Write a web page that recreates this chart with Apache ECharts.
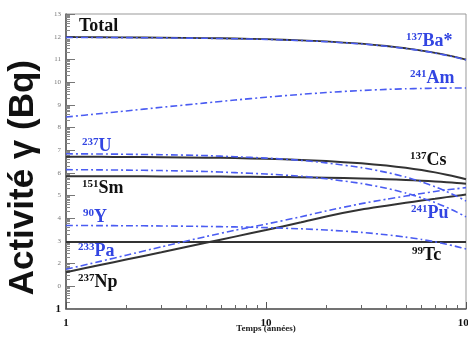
<!DOCTYPE html>
<html><head><meta charset="utf-8">
<script src="https://cdn.jsdelivr.net/npm/echarts@6/dist/echarts.min.js"></script>
<style>html,body{margin:0;padding:0;background:#fff}#c{width:468px;height:339px}</style>
</head><body><div id="c"></div>
<script>
// Time in years (log axis)
const years = [1, 1.5, 2, 3, 5, 7, 10, 15, 20, 30, 40, 50, 60, 70, 80, 90, 100];
// Gamma activity (Bq)
const total = [9.55e11, 9.44e11, 9.33e11, 9.12e11, 8.71e11, 8.32e11, 7.76e11, 6.92e11, 6.17e11, 4.9e11, 3.89e11, 3.09e11, 2.45e11, 1.95e11, 1.55e11, 1.23e11, 9.77e10];
const ba137 = [9.3e11, 9.2e11, 9.1e11, 8.9e11, 8.5e11, 8.1e11, 7.6e11, 6.75e11, 6.0e11, 4.8e11, 3.8e11, 3.0e11, 2.4e11, 1.9e11, 1.5e11, 1.2e11, 9.5e10];
const am241 = [2.87e8, 4.13e8, 5.35e8, 7.73e8, 1.21e9, 1.61e9, 2.15e9, 2.88e9, 3.46e9, 4.26e9, 4.75e9, 5.06e9, 5.24e9, 5.36e9, 5.43e9, 5.48e9, 5.5e9];
const u237 = [6.92e6, 6.76e6, 6.6e6, 6.3e6, 5.75e6, 5.13e6, 4.47e6, 3.55e6, 2.75e6, 1.7e6, 1.05e6, 6.5e5, 4.0e5, 2.45e5, 1.5e5, 9.3e4, 5.75e4];
const cs137 = [5.13e6, 5.07e6, 5.01e6, 4.9e6, 4.68e6, 4.47e6, 4.17e6, 3.72e6, 3.31e6, 2.63e6, 2.09e6, 1.66e6, 1.32e6, 1.05e6, 8.3e5, 6.6e5, 5.25e5];
const pu241 = [1.38e6, 1.35e6, 1.32e6, 1.26e6, 1.15e6, 1.02e6, 8.9e5, 7.1e5, 5.5e5, 3.4e5, 2.1e5, 1.29e5, 7.9e4, 4.9e4, 3.0e4, 1.86e4, 1.15e4];
const sm151 = [7.08e5, 7.05e5, 7.03e5, 6.97e5, 6.87e5, 6.76e5, 6.6e5, 6.36e5, 6.12e5, 5.66e5, 5.25e5, 4.86e5, 4.5e5, 4.17e5, 3.86e5, 3.58e5, 3.31e5];
const y90 = [4790, 4730, 4680, 4570, 4350, 4150, 3860, 3420, 3030, 2380, 1870, 1470, 1160, 910, 716, 562, 442];
const tc99 = [890, 890, 890, 890, 890, 890, 890, 890, 890, 890, 890, 890, 890, 890, 890, 890, 890];
const pa233 = [56, 129, 234, 550, 1550, 2950, 5500, 11700, 21000, 44000, 69000, 95000, 123000, 151000, 178000, 200000, 224000];
const np237 = [41.7, 89, 151, 316, 832, 1550, 3020, 6610, 12000, 24000, 35500, 47900, 60300, 72400, 85100, 97700, 110000];

// tick values
const xMajor = [1, 10, 100];
const yMajor = [1e1,1e2,1e3,1e4,1e5,1e6,1e7,1e8,1e9,1e10,1e11,1e12,1e13];
const yBase = [1];
const xMinor = [], yMinor = [];
for (let d = 0; d < 2; d++) for (let m = 2; m <= 9; m++) xMinor.push(m * Math.pow(10, d));
for (let d = 0; d < 13; d++) for (let m = 2; m <= 9; m++) yMinor.push(m * Math.pow(10, d));

const BLUE_LINE = '#4a5cf2';
const BLUE_TXT = '#3245e2';
const BLACK_LINE = '#333';
const dashDot = [7, 3, 2, 3];

function pairs(arr) { return years.map((t, i) => [t, arr[i]]); }
function blackSeries(name, arr, w) {
  return { name, type: 'line', data: pairs(arr), showSymbol: false, symbol: 'none', smooth: 0.2, silent: true,
    lineStyle: { color: BLACK_LINE, width: w || 2 }, z: 2 };
}
function blueSeries(name, arr) {
  return { name, type: 'line', data: pairs(arr), showSymbol: false, symbol: 'none', smooth: 0.2, silent: true,
    lineStyle: { color: BLUE_LINE, width: 1.6, type: dashDot }, z: 3 };
}

const serif = 'Liberation Serif, Times New Roman, serif';
function lbl(sup, main, x, y, color) {
  return { type: 'text', left: x, top: y, z: 10, silent: true,
    style: { text: (sup ? '{s|' + sup + '}' : '') + '{m|' + main + '}', fill: color,
      rich: { s: { fontSize: 11, fontWeight: 'bold', fontFamily: serif, fill: color, verticalAlign: 'top', lineHeight: 18 },
              m: { fontSize: 18, fontWeight: 'bold', fontFamily: serif, fill: color, verticalAlign: 'bottom', lineHeight: 18 } } } };
}
const yLogAxis = { type: 'log', min: 1, max: 1e13, logBase: 10, position: 'left', splitLine: { show: false }, minorTick: { show: false } };

const chart = echarts.init(document.getElementById('c'), null, { renderer: 'canvas' });
chart.setOption({
  backgroundColor: '#fff',
  animation: false,
  grid: { left: 66, right: 2, top: 14, bottom: 30, show: true, borderColor: '#999', borderWidth: 1, outerBoundsMode: 'none', containLabel: false },
  xAxis: [{
    type: 'log', min: 1, max: 100, logBase: 10,
    name: 'Temps (années)', nameLocation: 'middle', nameGap: 15, nameMoveOverlap: false,
    nameTextStyle: { fontFamily: serif, fontWeight: 'bold', fontSize: 9, color: '#222' },
    axisLine: { show: true, lineStyle: { color: '#555', width: 1.5 } },
    axisTick: { show: true, inside: true, length: 7, customValues: xMajor, lineStyle: { color: '#555' } },
    axisLabel: { customValues: xMajor, fontFamily: serif, fontWeight: 'bold', fontSize: 11, color: '#111', margin: 9,
      alignMinLabel: 'center', alignMaxLabel: 'center', hideOverlap: false },
    splitLine: { show: false }, minorTick: { show: false }
  }, {
    type: 'log', min: 1, max: 100, logBase: 10, position: 'bottom',
    axisLine: { show: false },
    axisTick: { show: true, inside: true, length: 4, customValues: xMinor, lineStyle: { color: '#666' } },
    axisLabel: { show: false }, splitLine: { show: false }
  }],
  yAxis: [Object.assign({}, yLogAxis, {
    axisLine: { show: true, lineStyle: { color: '#555', width: 1.5 } },
    axisTick: { show: true, inside: true, length: 9, customValues: yMajor.concat(yBase), lineStyle: { color: '#777' } },
    axisLabel: { customValues: yMajor, margin: 5, fontFamily: serif, fontSize: 7, color: '#777',
      formatter: function (v) {
        const e = Math.round(Math.log10(v));
        return e === 1 ? '0' : String(e);
      } }
  }), Object.assign({}, yLogAxis, {
    axisLine: { show: false },
    axisTick: { show: true, inside: true, length: 4, customValues: yMinor, lineStyle: { color: '#888' } },
    axisLabel: { show: false }
  }), Object.assign({}, yLogAxis, {
    axisLine: { show: false },
    axisTick: { show: false },
    axisLabel: { customValues: yBase, margin: 5, fontFamily: serif, fontWeight: 'bold', fontSize: 11, color: '#111',
      verticalAlign: 'middle', verticalAlignMinLabel: 'middle', formatter: function () { return '1'; } }
  })],
  series: [
    blackSeries('Total', total, 1.8),
    blackSeries('137Cs', cs137),
    blackSeries('151Sm', sm151),
    blackSeries('99Tc', tc99),
    blackSeries('237Np', np237),
    blueSeries('137Ba*', ba137),
    blueSeries('241Am', am241),
    blueSeries('237U', u237),
    blueSeries('241Pu', pu241),
    blueSeries('90Y', y90),
    blueSeries('233Pa', pa233)
  ],
  graphic: [
    { type: 'text', left: 6, top: 60, rotation: Math.PI / 2, z: 10, silent: true,
      style: { text: 'Activité γ (Bq)', font: 'bold 35px "Liberation Sans", Arial, sans-serif', fill: '#111' } },
    lbl('', 'Total', 79, 17, '#111'),
    lbl('137', 'Ba*', 406, 32, BLUE_TXT),
    lbl('241', 'Am', 410, 69, BLUE_TXT),
    lbl('237', 'U', 82, 137, BLUE_TXT),
    lbl('137', 'Cs', 410, 151, '#111'),
    lbl('151', 'Sm', 82, 179, '#111'),
    lbl('90', 'Y', 83, 208, BLUE_TXT),
    lbl('241', 'Pu', 411, 204, BLUE_TXT),
    lbl('233', 'Pa', 78, 242, BLUE_TXT),
    lbl('99', 'Tc', 412, 246, '#111'),
    lbl('237', 'Np', 78, 273, '#111')
  ]
});
</script></body></html>
